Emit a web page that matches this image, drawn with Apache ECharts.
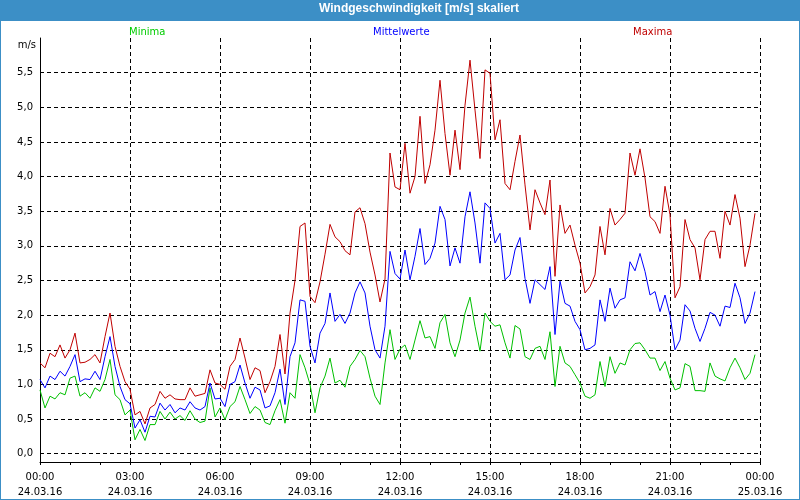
<!DOCTYPE html>
<html><head><meta charset="utf-8">
<script src="https://cdn.jsdelivr.net/npm/echarts@6/dist/echarts.min.js"></script>
<style>html,body{margin:0;padding:0;background:#fff}#c{width:800px;height:500px}</style>
</head><body><div id="c"></div>
<script>
// 10-minute samples, 24.03.16 00:00 .. 23:50
const stepMinutes = 10;
const maxima = [
1.31,1.24,1.45,1.40,1.57,1.38,1.50,1.74,1.31,1.32,1.36,1.43,1.31,1.69,2.03,1.55,1.26,1.04,0.93,0.56,0.61,0.43,0.66,0.71,0.90,
0.80,0.85,0.79,0.78,0.78,0.95,0.83,0.85,0.87,1.21,1.02,1.00,0.93,1.26,1.36,1.67,1.38,1.07,1.24,1.20,0.88,1.04,1.26,1.72,
1.15,2.03,2.50,3.28,3.33,2.27,2.18,2.48,2.88,3.31,3.13,3.06,2.93,2.87,3.49,3.55,3.32,2.91,2.58,2.19,2.52,4.34,3.85,
3.81,4.48,3.76,4.00,4.87,3.90,4.17,4.67,5.39,4.62,4.02,4.67,4.10,5.03,5.68,4.96,4.26,5.54,5.49,4.53,4.82,3.90,3.81,4.22,4.60,
3.88,3.23,3.81,3.62,3.45,3.95,2.56,3.59,3.18,3.30,3.01,2.75,2.32,2.41,2.58,3.28,2.87,3.54,3.30,3.38,3.47,4.34,4.02,4.40,
3.98,3.42,3.35,3.18,3.86,3.45,2.25,2.41,3.38,3.09,2.97,2.51,3.09,3.21,3.21,2.82,3.50,3.30,3.74,3.40,2.70,3.01,3.47
];
const mittelwerte = [
1.07,0.95,1.12,1.07,1.19,1.12,1.26,1.43,1.04,1.08,1.07,1.19,1.07,1.40,1.69,1.26,0.97,0.78,0.72,0.37,0.49,0.31,0.54,0.53,0.73,
0.63,0.71,0.59,0.66,0.63,0.75,0.66,0.63,0.68,1.02,0.79,0.80,0.68,1.00,1.04,1.28,1.02,0.80,0.96,0.92,0.66,0.69,0.88,1.22,
0.71,1.40,1.60,2.22,2.20,1.55,1.31,1.74,1.88,2.32,1.91,2.01,1.88,2.03,2.32,2.48,2.32,1.84,1.50,1.38,1.84,2.92,2.60,
2.52,2.94,2.51,2.85,3.25,2.73,2.82,3.04,3.57,3.38,2.71,2.97,2.75,3.42,3.78,3.33,2.75,3.62,3.54,3.04,3.18,2.51,2.58,2.94,3.12,
2.53,2.17,2.51,2.44,2.37,2.70,1.72,2.49,2.17,2.13,1.91,1.79,1.50,1.52,1.57,2.22,1.91,2.39,2.10,2.22,2.25,2.77,2.64,2.89,
2.63,2.29,2.34,2.05,2.29,2.00,1.50,1.64,2.15,2.06,1.81,1.62,1.81,2.04,2.00,1.84,2.13,2.11,2.46,2.25,1.88,2.03,2.34
];
const minima = [
0.92,0.66,0.83,0.79,0.88,0.85,1.09,1.12,0.83,0.88,0.80,0.95,0.90,1.07,1.36,0.85,0.78,0.56,0.63,0.20,0.35,0.19,0.42,0.42,0.61,
0.50,0.60,0.50,0.55,0.48,0.62,0.50,0.45,0.47,0.95,0.53,0.66,0.49,0.68,0.75,0.97,0.78,0.58,0.68,0.63,0.45,0.42,0.62,0.78,
0.44,0.88,0.80,1.43,1.24,1.00,0.59,0.95,1.12,1.38,1.02,1.06,0.96,1.26,1.36,1.49,1.40,1.09,0.83,0.71,1.31,1.79,1.36,
1.51,1.57,1.36,1.64,1.92,1.67,1.69,1.52,1.89,2.01,1.60,1.40,1.64,2.03,2.26,1.84,1.48,2.03,1.91,1.84,1.86,1.60,1.38,1.85,1.80,
1.40,1.36,1.52,1.55,1.36,1.76,0.97,1.55,1.31,1.26,1.14,1.02,0.83,0.80,0.85,1.33,0.97,1.40,1.16,1.31,1.28,1.50,1.59,1.60,
1.50,1.38,1.38,1.20,1.33,1.09,0.92,0.95,1.30,1.26,0.91,0.91,0.90,1.31,1.12,1.08,1.05,1.24,1.38,1.24,1.07,1.16,1.43
];
const tickLabels = ['00:00\n24.03.16','03:00\n24.03.16','06:00\n24.03.16','09:00\n24.03.16','12:00\n24.03.16','15:00\n24.03.16','18:00\n24.03.16','21:00\n24.03.16','00:00\n25.03.16'];
const seriesNames = ['Minima','Mittelwerte','Maxima'];
const seriesColors = ['#00c000','#0000ff','#c00000'];
const legendColors = ['#00cc00','#0000ff','#c00000'];

const toPoints = arr => arr.map((v, i) => [i * stepMinutes / 60, v]);
const FONT = 'DejaVu Sans';

const chart = echarts.init(document.getElementById('c'), null, {renderer: 'canvas'});
const legendLefts = [124, 368, 628];
chart.setOption({
  animation: false,
  backgroundColor: '#3c8fc6',
  graphic: [{type: 'rect', shape: {x: 1, y: 21, width: 798, height: 478}, style: {fill: '#ffffff'}, z: -10, silent: true}],
  title: {text: 'Windgeschwindigkeit [m/s] skaliert', left: 419, top: 3, textAlign: 'center', padding: 0,
    textStyle: {color: '#fff', fontWeight: 'bold', fontSize: 12, fontFamily: 'Liberation Sans'}},
  legend: seriesNames.map((n, i) => ({
    data: [{name: n, textStyle: {color: legendColors[i]}}],
    left: legendLefts[i], top: 25, padding: 0, icon: 'none', itemWidth: 0, itemHeight: 14,
    selectedMode: false, textStyle: {fontFamily: FONT, fontSize: 10}
  })),
  grid: {left: 40, right: 40, top: 38, bottom: 38, containLabel: false},
  xAxis: {
    type: 'value', min: 0, max: 24, interval: 3,
    axisLine: {show: true, onZero: false, lineStyle: {color: '#000', width: 1}},
    axisTick: {show: true, length: 3, lineStyle: {color: '#000'}},
    minorTick: {show: true, splitNumber: 3, length: 3, lineStyle: {color: '#000'}},
    axisLabel: {formatter: v => tickLabels[Math.round(v / 3)], color: '#000', fontFamily: FONT, fontSize: 10, lineHeight: 15, margin: 8},
    splitLine: {show: true, showMinLine: false, lineStyle: {color: '#000', type: [4, 3], width: 1}}
  },
  yAxis: {
    type: 'value', min: -0.12, max: 6, minInterval: 0.5, maxInterval: 0.5, splitNumber: 12,
    name: 'm/s', nameLocation: 'end', nameGap: -7,
    nameTextStyle: {color: '#000', fontFamily: FONT, fontSize: 10, align: 'right', verticalAlign: 'middle', padding: [0, 4, 0, 0]},
    axisLine: {show: true, onZero: false, lineStyle: {color: '#000', width: 1}},
    axisTick: {show: false},
    axisLabel: {showMinLabel: false, showMaxLabel: false, color: '#000', fontFamily: FONT, fontSize: 10, margin: 7,
      formatter: v => v.toFixed(1).replace('.', ',')},
    splitLine: {show: true, showMinLine: false, showMaxLine: false, lineStyle: {color: '#000', type: [4, 3], width: 1}}
  },
  series: [
    {name: 'Minima', type: 'line', data: toPoints(minima), showSymbol: false, symbol: 'none', lineStyle: {width: 1, color: seriesColors[0]}, itemStyle: {color: seriesColors[0]}},
    {name: 'Mittelwerte', type: 'line', data: toPoints(mittelwerte), showSymbol: false, symbol: 'none', lineStyle: {width: 1, color: seriesColors[1]}, itemStyle: {color: seriesColors[1]}},
    {name: 'Maxima', type: 'line', data: toPoints(maxima), showSymbol: false, symbol: 'none', lineStyle: {width: 1, color: seriesColors[2]}, itemStyle: {color: seriesColors[2]}}
  ]
});
</script></body></html>
